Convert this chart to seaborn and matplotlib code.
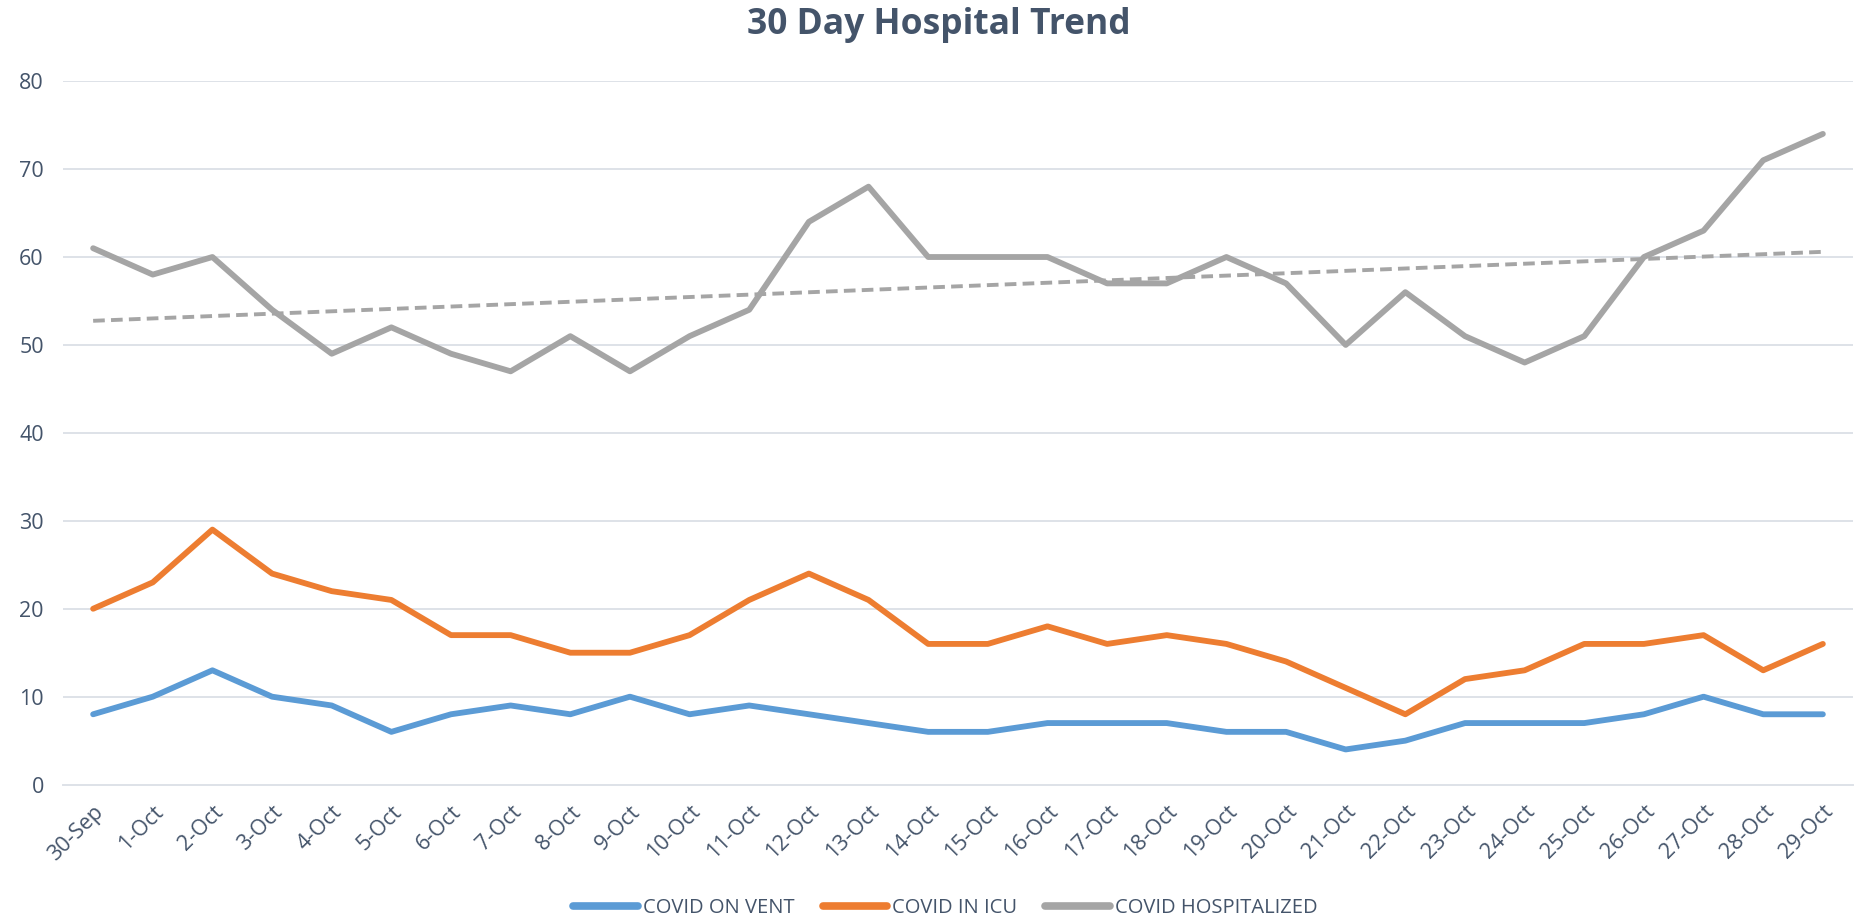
"""
30 Day Hospital Trend - 折线图 + 趋势线
"""
import numpy as np
import pandas as pd
import matplotlib
matplotlib.use('Agg')
import matplotlib.pyplot as plt
import seaborn as sns

# 数据
dates = ['30-Sep'] + [f'{d}-Oct' for d in range(1, 30)]
on_vent = [8, 10, 13, 10, 9, 6, 8, 9, 8, 10, 8, 9, 8, 7, 6, 6, 7, 7, 7, 6,
           6, 4, 5, 7, 7, 7, 8, 10, 8, 8]
in_icu = [20, 23, 29, 24, 22, 21, 17, 17, 15, 15, 17, 21, 24, 21, 16, 16, 18, 16, 17, 16,
          14, 11, 8, 12, 13, 16, 16, 17, 13, 16]
hospitalized = [61, 58, 60, 54, 49, 52, 49, 47, 51, 47, 51, 54, 64, 68, 60, 60, 60, 57, 57, 60,
                57, 50, 56, 51, 48, 51, 60, 63, 71, 74]
series_names = ['COVID ON VENT', 'COVID IN ICU', 'COVID HOSPITALIZED']
y_ticks = [0, 10, 20, 30, 40, 50, 60, 70, 80]

colors = ['#5B9BD5', '#ED7D31', '#A5A5A5']
text_color = '#44546A'
grid_color = '#DEE2E8'

# 长表
idx = np.arange(len(dates))
df = pd.DataFrame({
    'idx': np.tile(idx, 3),
    'value': on_vent + in_icu + hospitalized,
    'series': np.repeat(series_names, len(dates)),
})

sns.set_theme(style='white')
plt.rcParams['font.family'] = ['Open Sans', 'DejaVu Sans']

fig = plt.figure(figsize=(18.62, 9.22), dpi=100)
ax = fig.add_axes([0.034, 0.149, 0.961, 0.763])

sns.lineplot(data=df, x='idx', y='value', hue='series', hue_order=series_names,
             palette=colors, linewidth=4.2, ax=ax, legend=True)

# 线性趋势线
sns.regplot(x=idx, y=np.array(hospitalized), scatter=False, ci=None, ax=ax,
            line_kws={'color': '#A5A5A5', 'linestyle': (0, (3, 1.6)), 'linewidth': 2.8})

ax.set_xlim(-0.5, len(dates) - 0.5)
ax.set_ylim(0, 80)
ax.set_yticks(y_ticks)
ax.set_xticks(idx)
ax.set_xticklabels(dates, rotation=45, ha='right', rotation_mode='anchor')
ax.set_xticks(np.arange(-0.5, len(dates), 1), minor=True)
ax.tick_params(axis='x', which='major', length=0, pad=12, labelsize=15.5, colors=text_color)
ax.tick_params(axis='x', which='minor', length=7, width=1.2, color=grid_color, direction='out')
ax.tick_params(axis='y', length=0, pad=14, labelsize=15.5, colors=text_color)
ax.set_xlabel('')
ax.set_ylabel('')

ax.grid(axis='y', color=grid_color, linewidth=1.4)
ax.set_axisbelow(True)
for s in ['top', 'right', 'left']:
    ax.spines[s].set_visible(False)
ax.spines['bottom'].set_color(grid_color)
ax.spines['bottom'].set_linewidth(1.4)

# 标题居中于整个图
fig.suptitle('30 Day Hospital Trend', x=0.504, y=0.973, va='center', fontsize=25.5,
             fontweight='bold', color=text_color)

handles, labels = ax.get_legend_handles_labels()
leg = ax.legend(handles[:3], labels[:3], loc='lower center', bbox_to_anchor=(0.493, -0.215),
                ncol=3, frameon=False, fontsize=14.5, handlelength=3.2,
                handletextpad=0.25, columnspacing=1.4, labelcolor=text_color)
for line in leg.get_lines():
    line.set_linewidth(5.5)

fig.savefig('out.png', dpi=100)
